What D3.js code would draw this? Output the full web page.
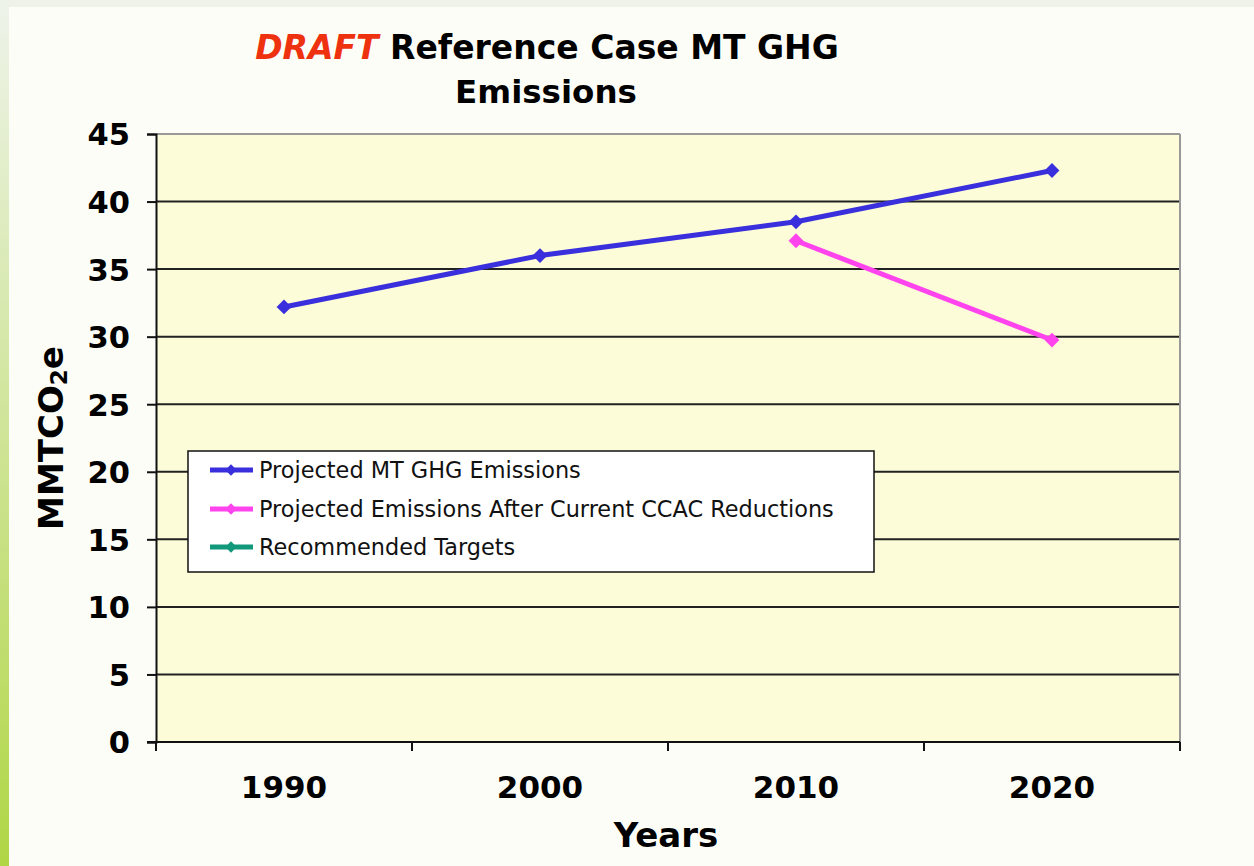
<!DOCTYPE html>
<html><head><meta charset="utf-8">
<script src="https://cdn.jsdelivr.net/npm/d3@7"></script>
<style>html,body{margin:0;padding:0;background:#fdfdf7;}svg{display:block;}</style>
</head><body>
<script>
const years = ["1990", "2000", "2010", "2020"];
const projected = [32.2, 36.0, 38.5, 42.3];
const afterCCAC = [null, null, 37.1, 29.75];
const targets = [null, null, null, null];
const yTicks = [0, 5, 10, 15, 20, 25, 30, 35, 40, 45];
const seriesNames = ["Projected MT GHG Emissions", "Projected Emissions After Current CCAC Reductions", "Recommended Targets"];
const seriesColors = ["#3a2fdc", "#ff44ee", "#12987a"];

const W = 1254, H = 866;
const svg = d3.select("body").append("svg").attr("width", W).attr("height", H);
const defs = svg.append("defs");
const g1 = defs.append("linearGradient").attr("id", "lg").attr("x1", 0).attr("y1", 0).attr("x2", 0).attr("y2", 1);
g1.append("stop").attr("offset", "0").attr("stop-color", "#eef3ea");
g1.append("stop").attr("offset", "1").attr("stop-color", "#b0d645");
svg.append("rect").attr("width", W).attr("height", H).attr("fill", "#fdfdf7");
svg.append("rect").attr("x", 0).attr("y", 0).attr("width", W).attr("height", 7).attr("fill", "#eef3ea");
svg.append("rect").attr("x", 0).attr("y", 0).attr("width", 9).attr("height", H).attr("fill", "url(#lg)");

const L = 156, R = 1180, T = 134, B = 742;
const x = d3.scaleBand().domain(years).range([L, R]).padding(0);
const y = d3.scaleLinear().domain([0, 45]).range([B, T]);
const font = "'DejaVu Sans', Verdana, sans-serif";

svg.append("rect").attr("x", L).attr("y", T).attr("width", R - L).attr("height", B - T).attr("fill", "#fcfcd8");

// gridlines
svg.append("g").selectAll("line").data(yTicks.filter(d => d > 0 && d < 45)).join("line")
  .attr("x1", L).attr("x2", R).attr("y1", d => y(d)).attr("y2", d => y(d))
  .attr("stroke", "#222").attr("stroke-width", 2);
// top/right border
svg.append("line").attr("x1", L).attr("x2", R).attr("y1", T).attr("y2", T).attr("stroke", "#999").attr("stroke-width", 2);
svg.append("line").attr("x1", R).attr("x2", R).attr("y1", T).attr("y2", B).attr("stroke", "#999").attr("stroke-width", 2);

// y axis
const yAxis = svg.append("g").attr("transform", `translate(${L},0)`)
  .call(d3.axisLeft(y).tickValues(yTicks).tickSize(9).tickPadding(17));
yAxis.select(".domain").attr("stroke", "#111").attr("stroke-width", 2);
yAxis.selectAll(".tick line").attr("stroke", "#111").attr("stroke-width", 2);
yAxis.selectAll(".tick text").attr("font-family", font).attr("font-weight", "bold").attr("font-size", 30.5).attr("fill", "#000").attr("dy", "0.36em");

// x axis
const xAxis = svg.append("g").attr("transform", `translate(0,${B})`)
  .call(d3.axisBottom(x).tickSize(0).tickPadding(34));
xAxis.select(".domain").remove();
svg.append("line").attr("x1", L - 9).attr("x2", R).attr("y1", B).attr("y2", B).attr("stroke", "#111").attr("stroke-width", 2);
xAxis.selectAll(".tick text").attr("font-family", font).attr("font-weight", "bold").attr("font-size", 31).attr("fill", "#000");
const edges = years.map(d => x(d)).concat([R]);
svg.append("g").selectAll("line").data(edges).join("line")
  .attr("x1", d => d).attr("x2", d => d).attr("y1", B).attr("y2", B + 9)
  .attr("stroke", "#111").attr("stroke-width", 2);

// series
const allSeries = [projected, afterCCAC, targets];
const line = d3.line().defined(d => d.v != null).x(d => x(d.k) + x.bandwidth() / 2).y(d => y(d.v));
const marker = d3.symbol().type(d3.symbolSquare).size(110);
allSeries.forEach((s, i) => {
  const pts = years.map((k, j) => ({k, v: s[j]}));
  svg.append("path").datum(pts).attr("d", line).attr("fill", "none")
    .attr("stroke", seriesColors[i]).attr("stroke-width", 5).attr("stroke-linejoin", "round");
  svg.append("g").selectAll("path").data(pts.filter(d => d.v != null)).join("path")
    .attr("d", marker).attr("transform", d => `translate(${x(d.k) + x.bandwidth() / 2},${y(d.v)}) rotate(45)`)
    .attr("fill", seriesColors[i]);
});

// legend
const lg = svg.append("g");
lg.append("rect").attr("x", 188).attr("y", 451).attr("width", 686).attr("height", 121)
  .attr("fill", "#fff").attr("stroke", "#111").attr("stroke-width", 1.5);
const rowY = [470, 509, 547];
seriesNames.forEach((n, i) => {
  lg.append("line").attr("x1", 210).attr("x2", 253).attr("y1", rowY[i]).attr("y2", rowY[i])
    .attr("stroke", seriesColors[i]).attr("stroke-width", 5);
  lg.append("path").attr("d", d3.symbol().type(d3.symbolSquare).size(64)).attr("transform", `translate(231,${rowY[i]}) rotate(45)`).attr("fill", seriesColors[i]);
  lg.append("text").attr("x", 259).attr("y", rowY[i]).attr("dy", "0.36em")
    .attr("font-family", font).attr("font-size", 22.4).attr("fill", "#111").text(n);
});

// title
const t1 = svg.append("text").attr("x", 547).attr("y", 59).attr("text-anchor", "middle")
  .attr("font-family", font).attr("font-weight", "bold").attr("font-size", 33);
t1.append("tspan").attr("fill", "#ee3210").attr("font-style", "italic").text("DRAFT");
t1.append("tspan").attr("fill", "#000").text(" Reference Case MT GHG");
svg.append("text").attr("x", 546).attr("y", 103).attr("text-anchor", "middle")
  .attr("font-family", font).attr("font-weight", "bold").attr("font-size", 32.5).attr("fill", "#000").text("Emissions");

// axis titles
svg.append("text").attr("x", 666).attr("y", 847).attr("text-anchor", "middle")
  .attr("font-family", font).attr("font-weight", "bold").attr("font-size", 34).attr("fill", "#000").text("Years");
const yt = svg.append("text").attr("transform", "translate(63,438) rotate(-90)").attr("text-anchor", "middle")
  .attr("font-family", font).attr("font-weight", "bold").attr("font-size", 34).attr("fill", "#000");
yt.append("tspan").text("MMTCO");
yt.append("tspan").attr("font-size", 23).attr("dy", 4).text("2");
yt.append("tspan").attr("dy", -4).text("e");
</script>
</body></html>
